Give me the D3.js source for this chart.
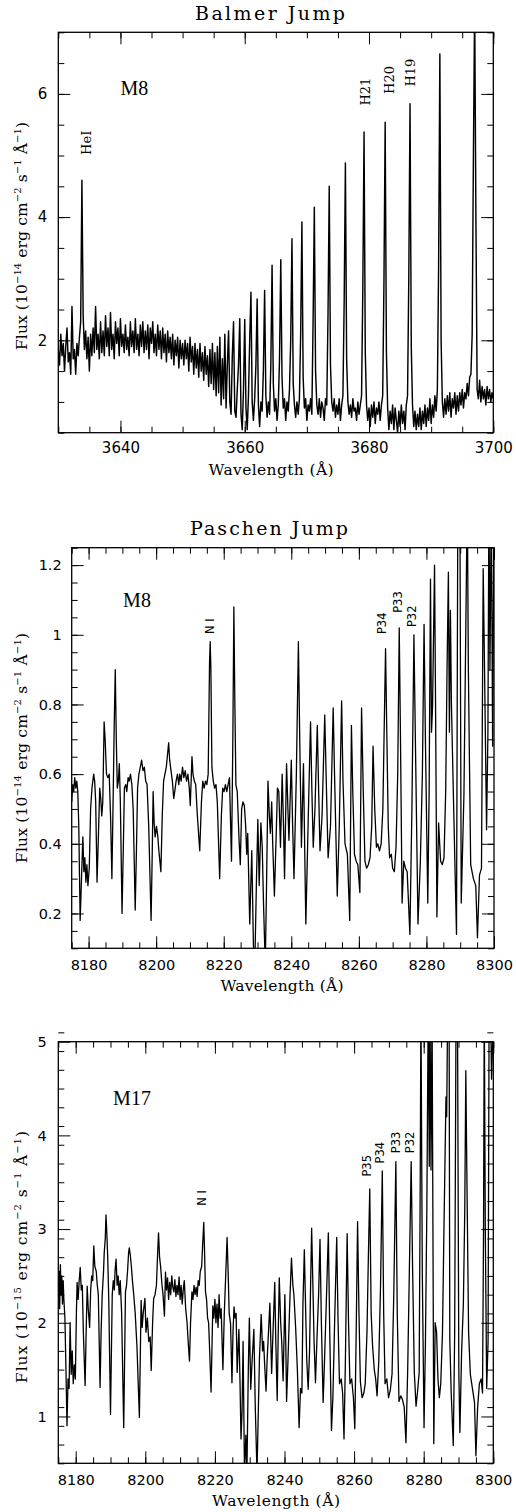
<!DOCTYPE html>
<html>
<head>
<meta charset="utf-8">
<script src="https://cdn.jsdelivr.net/npm/d3@7"></script>
<style>
  body { margin: 0; background: #fff; }
  svg text { fill: #000; }
</style>
</head>
<body>
<div id="chart"></div>
<script>
// Balmer jump, M8 : flux on a regular 0.2 A grid starting at 3630 A
const balmerStart = 3630, balmerStep = 0.2;
const balmerFlux = [
  1.85,1.60,2.10,1.75,1.95,1.50,1.90,2.20,1.65,1.80,
  1.45,2.55,1.70,1.85,1.45,1.95,1.75,2.05,2.30,4.60,
  2.40,1.85,2.15,1.70,2.05,1.50,2.10,1.75,2.20,1.80,
  2.55,1.85,2.10,1.70,2.30,1.80,2.15,1.75,2.40,1.90,
  2.20,1.75,2.45,1.85,2.10,1.70,2.30,1.95,2.20,1.75,
  2.35,1.90,2.10,1.80,2.25,1.85,2.05,1.75,2.30,1.90,
  2.15,1.80,2.35,1.85,2.10,1.75,2.25,1.90,2.30,1.80,
  2.15,1.85,2.25,1.70,2.20,1.95,2.30,1.80,2.10,1.75,
  2.25,1.85,2.15,1.70,2.20,1.80,2.10,1.65,2.15,1.80,
  2.05,1.70,2.10,1.60,2.00,1.75,2.05,1.55,2.00,1.70,
  1.95,1.60,2.00,1.70,1.95,1.50,2.05,1.65,1.90,1.45,
  1.95,1.55,1.85,1.40,1.95,1.50,1.80,1.35,1.90,1.45,
  1.75,1.25,1.85,1.30,1.95,1.20,1.80,1.10,1.90,1.15,
  2.05,0.95,1.70,1.05,2.10,0.90,1.60,2.15,1.00,0.80,
  1.75,2.30,0.85,0.75,1.20,1.60,2.35,0.80,0.55,1.20,
  2.34,0.90,0.55,1.10,2.00,2.78,1.00,0.70,1.05,1.60,
  2.67,0.95,0.60,1.00,0.85,1.50,2.81,1.10,0.75,1.00,
  0.80,1.60,3.22,1.30,0.85,1.05,0.70,0.95,1.70,3.31,
  1.40,0.90,1.05,0.70,1.00,0.85,1.20,2.00,3.65,1.30,
  0.95,0.75,1.00,0.80,1.05,2.10,3.92,1.40,0.90,1.05,
  0.70,0.95,0.85,1.05,0.80,2.30,4.16,1.50,0.95,0.80,
  1.05,0.75,1.00,0.90,0.70,1.05,0.95,2.40,4.50,1.60,
  1.00,0.85,1.05,0.75,0.95,0.80,1.05,0.70,0.95,1.10,
  2.60,4.88,1.70,1.00,0.80,0.95,0.75,1.05,0.85,0.90,
  0.70,1.00,0.80,0.95,1.10,2.80,5.38,1.80,0.95,0.70,
  0.90,0.60,0.95,0.75,1.00,0.65,0.90,0.80,1.00,0.70,
  0.95,1.10,2.90,5.54,1.80,0.90,0.55,0.85,0.65,0.95,
  0.55,0.90,0.70,0.50,0.85,0.60,0.95,0.65,0.85,0.55,
  0.95,1.10,3.00,5.84,1.90,0.95,0.60,0.85,0.55,0.80,
  0.60,0.90,0.55,0.85,0.65,0.95,0.60,0.90,0.70,1.05,
  0.65,0.95,0.75,1.10,0.85,1.20,3.20,6.65,2.00,1.00,
  0.75,1.05,0.80,1.10,0.85,1.15,0.75,1.05,0.90,1.15,
  0.80,1.10,0.85,1.15,0.95,1.20,0.90,1.15,1.05,1.30,
  1.10,1.40,1.45,2.10,5.00,7.50,4.00,1.20,1.05,1.35,
  1.00,1.25,1.05,1.20,0.95,1.25,1.05,1.20,1.00,1.15,
  1.05
];

// Paschen jump, M8 : [wavelength A, flux 1e-14]
const paschenM8 = [
  [8175.0,0.52],[8175.3,0.57],[8175.6,0.55],[8175.9,0.59],[8176.2,0.56],[8176.5,0.58],[8176.8,0.55],[8177.1,0.45],
  [8177.5,0.18],[8177.9,0.30],[8178.3,0.42],[8178.6,0.32],[8178.9,0.36],[8179.2,0.29],[8179.5,0.34],[8179.8,0.28],
  [8180.2,0.33],[8180.6,0.50],[8181.0,0.56],[8181.5,0.60],[8181.8,0.58],[8182.1,0.52],[8182.5,0.29],[8182.9,0.42],
  [8183.3,0.56],[8183.6,0.53],[8183.9,0.48],[8184.2,0.52],[8184.6,0.75],[8184.9,0.70],[8185.3,0.60],[8185.7,0.59],
  [8186.1,0.60],[8186.5,0.48],[8186.9,0.30],[8187.3,0.55],[8187.6,0.75],[8187.9,0.90],[8188.2,0.70],[8188.5,0.56],
  [8188.8,0.58],[8189.1,0.63],[8189.4,0.52],[8189.9,0.20],[8190.3,0.40],[8190.6,0.56],[8191.0,0.57],[8191.3,0.55],
  [8191.7,0.59],[8192.0,0.58],[8192.4,0.60],[8192.8,0.57],[8193.2,0.50],[8193.8,0.21],[8194.2,0.40],[8194.5,0.56],
  [8194.9,0.60],[8195.3,0.62],[8195.7,0.64],[8196.1,0.61],[8196.5,0.62],[8196.9,0.58],[8197.3,0.57],[8197.8,0.45],
  [8198.5,0.18],[8198.8,0.35],[8199.1,0.55],[8199.4,0.46],[8199.7,0.42],[8200.1,0.45],[8200.5,0.42],[8200.8,0.38],
  [8201.4,0.32],[8201.8,0.48],[8202.2,0.58],[8202.6,0.60],[8203.0,0.62],[8203.4,0.66],[8203.7,0.69],[8204.0,0.64],
  [8204.4,0.61],[8204.8,0.58],[8205.2,0.53],[8205.5,0.55],[8205.9,0.58],[8206.3,0.60],[8206.7,0.57],[8207.0,0.60],
  [8207.4,0.58],[8207.8,0.62],[8208.2,0.59],[8208.6,0.61],[8209.0,0.58],[8209.4,0.60],[8209.8,0.56],[8210.1,0.51],
  [8210.6,0.65],[8210.9,0.60],[8211.3,0.58],[8211.7,0.57],[8212.2,0.48],[8212.9,0.38],[8213.4,0.52],[8213.8,0.58],
  [8214.2,0.56],[8214.6,0.58],[8215.0,0.57],[8215.4,0.60],[8215.8,0.92],[8216.0,0.98],[8216.2,0.90],[8216.5,0.62],
  [8216.9,0.58],[8217.3,0.56],[8217.7,0.57],[8218.1,0.52],[8218.8,0.30],[8219.3,0.48],[8219.7,0.56],[8220.1,0.55],
  [8220.5,0.57],[8220.9,0.55],[8221.3,0.57],[8221.7,0.59],[8222.3,0.35],[8222.7,0.70],[8223.0,1.08],[8223.3,0.80],
  [8223.6,0.57],[8224.0,0.55],[8224.5,0.42],[8224.9,0.34],[8225.3,0.50],[8225.7,0.52],[8226.1,0.51],[8226.5,0.45],
  [8226.8,0.37],[8227.1,0.43],[8227.7,0.17],[8228.3,0.38],[8228.9,0.05],[8229.3,0.10],[8229.7,0.30],[8230.1,0.47],
  [8230.5,0.28],[8231.0,0.46],[8231.4,0.39],[8231.8,0.22],[8232.3,0.05],[8232.7,0.30],[8233.1,0.58],[8233.5,0.48],
  [8233.8,0.43],[8234.2,0.52],[8234.5,0.40],[8235.0,0.25],[8235.6,0.45],[8235.9,0.56],[8236.3,0.55],[8236.8,0.39],
  [8237.3,0.60],[8237.7,0.45],[8238.0,0.30],[8238.6,0.63],[8239.0,0.50],[8239.3,0.41],[8240.0,0.64],[8240.4,0.45],
  [8240.8,0.30],[8241.5,0.60],[8242.1,0.98],[8242.5,0.70],[8243.0,0.39],[8243.6,0.63],[8244.3,0.17],[8244.8,0.38],
  [8245.2,0.55],[8245.7,0.75],[8246.1,0.55],[8246.5,0.39],[8247.0,0.50],[8247.7,0.74],[8248.1,0.55],[8248.5,0.38],
  [8249.1,0.48],[8249.9,0.77],[8250.3,0.60],[8250.9,0.36],[8251.6,0.45],[8252.4,0.79],[8252.8,0.60],[8253.6,0.25],
  [8254.2,0.45],[8254.9,0.81],[8255.3,0.58],[8255.9,0.40],[8256.6,0.37],[8257.3,0.18],[8257.8,0.74],[8258.2,0.55],
  [8258.7,0.37],[8259.2,0.35],[8259.7,0.34],[8260.3,0.26],[8260.8,0.79],[8261.3,0.55],[8261.8,0.35],[8262.3,0.33],
  [8262.8,0.34],[8263.3,0.36],[8263.8,0.45],[8264.2,0.68],[8264.7,0.50],[8265.2,0.39],[8265.6,0.40],[8266.1,0.38],
  [8266.6,0.40],[8267.1,0.50],[8267.9,0.96],[8268.3,0.70],[8268.7,0.45],[8269.1,0.36],[8269.6,0.37],[8270.0,0.33],
  [8270.5,0.32],[8271.0,0.39],[8271.5,0.60],[8271.95,1.02],[8272.3,0.72],[8272.8,0.23],[8273.3,0.35],[8273.8,0.33],
  [8274.3,0.32],[8275.1,0.14],[8275.7,0.50],[8276.3,1.00],[8276.7,0.72],[8277.5,0.17],[8278.2,0.35],[8278.8,0.60],
  [8279.3,1.03],[8279.7,0.70],[8280.4,0.23],[8280.8,0.55],[8281.2,1.16],[8281.5,0.72],[8281.8,0.79],[8282.4,1.20],
  [8282.7,0.80],[8283.1,0.19],[8283.6,0.46],[8284.2,0.35],[8284.7,0.34],[8285.2,0.36],[8285.7,0.55],[8286.1,0.90],
  [8286.5,1.18],[8286.8,0.72],[8287.1,1.07],[8287.4,0.80],[8287.8,0.62],[8288.3,0.40],[8288.9,0.14],[8289.3,1.40],
  [8289.9,1.40],[8290.3,0.23],[8291.1,0.54],[8292.1,1.40],[8292.4,0.91],[8293.1,0.34],[8293.9,0.30],[8294.6,0.28],
  [8295.1,0.13],[8295.7,0.31],[8296.3,0.33],[8296.8,1.19],[8297.2,0.90],[8297.8,0.44],[8298.2,0.72],[8298.5,1.40],
  [8298.8,0.90],[8299.2,1.40],[8299.6,0.68],[8300.0,1.40]
];

// Paschen jump, M17 : [wavelength A, flux 1e-15]
const paschenM17 = [
  [8175.0,2.30],[8175.2,2.55],[8175.4,2.15],[8175.6,2.62],[8175.8,2.30],[8176.0,2.50],[8176.2,2.20],[8176.4,2.45],
  [8176.6,2.25],[8176.9,2.05],[8177.2,1.50],[8177.5,0.90],[8177.8,1.40],[8178.1,1.30],[8178.4,2.00],[8178.7,1.45],
  [8179.0,1.70],[8179.3,1.35],[8179.6,1.55],[8179.9,1.40],[8180.2,2.10],[8180.4,2.43],[8180.7,2.25],[8181.0,2.45],
  [8181.3,2.59],[8181.6,2.35],[8181.9,2.40],[8182.2,1.90],[8182.7,1.33],[8183.0,1.90],[8183.3,2.39],[8183.6,2.15],
  [8184.0,1.95],[8184.3,2.35],[8184.6,2.50],[8184.9,2.45],[8185.2,2.82],[8185.5,2.60],[8185.9,2.55],[8186.2,2.40],
  [8186.5,2.30],[8187.0,1.31],[8187.3,1.90],[8187.6,2.28],[8188.0,2.55],[8188.2,2.75],[8188.5,2.90],[8188.7,3.15],
  [8188.9,3.00],[8189.2,2.70],[8189.5,2.25],[8190.0,1.02],[8190.5,2.30],[8190.8,2.45],[8191.1,2.35],[8191.3,2.55],
  [8191.6,2.68],[8191.9,2.40],[8192.2,2.50],[8192.5,2.30],[8192.8,2.45],[8193.2,2.10],[8193.8,0.88],[8194.3,2.33],
  [8194.6,2.40],[8194.9,2.55],[8195.2,2.75],[8195.4,2.80],[8195.7,2.72],[8196.0,2.60],[8196.3,2.45],[8196.7,2.29],
  [8197.1,2.10],[8197.6,1.75],[8198.3,0.99],[8198.8,2.24],[8199.1,1.95],[8199.4,2.10],[8199.9,2.26],[8200.2,1.90],
  [8200.6,2.05],[8201.0,1.80],[8201.4,1.85],[8201.7,1.49],[8202.1,2.00],[8202.4,2.26],[8202.8,2.30],[8203.2,2.40],
  [8203.5,2.70],[8203.8,2.96],[8204.1,2.70],[8204.4,2.60],[8204.8,2.40],[8205.1,2.30],[8205.5,2.07],[8205.8,2.54],
  [8206.1,2.35],[8206.4,2.48],[8206.7,2.25],[8207.0,2.43],[8207.3,2.30],[8207.6,2.50],[8207.9,2.38],[8208.2,2.33],
  [8208.5,2.46],[8208.8,2.28],[8209.1,2.40],[8209.4,2.30],[8209.7,2.49],[8210.0,2.25],[8210.3,2.40],[8210.6,2.20],
  [8210.9,2.35],[8211.2,2.45],[8211.6,2.15],[8212.0,2.00],[8212.4,1.75],[8212.7,1.59],[8213.0,2.00],[8213.4,2.33],
  [8213.7,2.25],[8214.0,2.40],[8214.3,2.30],[8214.6,2.38],[8214.9,2.28],[8215.2,2.45],[8215.5,2.40],[8215.8,2.55],
  [8216.2,2.60],[8216.5,2.85],[8216.8,3.07],[8217.0,2.80],[8217.3,2.33],[8217.6,2.25],[8217.9,2.05],[8218.2,2.00],
  [8218.5,1.70],[8218.9,1.26],[8219.4,2.18],[8219.7,2.05],[8220.0,2.25],[8220.3,2.00],[8220.6,2.20],[8220.9,1.95],
  [8221.2,2.30],[8221.5,2.05],[8221.8,2.15],[8222.3,1.50],[8222.7,2.10],[8223.1,2.50],[8223.5,2.91],[8223.8,2.55],
  [8224.1,2.10],[8224.5,1.99],[8224.9,1.36],[8225.2,1.90],[8225.5,2.17],[8225.8,2.05],[8226.1,2.10],[8226.4,1.47],
  [8226.9,1.93],[8227.2,1.40],[8227.5,0.76],[8227.8,1.05],[8228.1,1.80],[8228.5,0.40],[8228.9,0.80],[8229.2,0.40],
  [8229.6,1.50],[8229.9,2.05],[8230.3,1.29],[8230.7,1.60],[8231.2,1.93],[8231.6,1.10],[8232.1,0.40],[8232.5,1.10],
  [8232.8,1.62],[8233.3,2.09],[8233.7,1.70],[8234.0,1.80],[8234.3,1.55],[8234.7,1.27],[8235.0,1.60],[8235.4,1.90],
  [8235.8,2.21],[8236.3,1.46],[8236.7,1.90],[8237.2,2.43],[8237.5,1.80],[8237.9,1.17],[8238.2,1.90],[8238.5,2.48],
  [8238.9,2.00],[8239.2,1.80],[8239.6,1.38],[8239.9,1.90],[8240.1,2.30],[8240.4,1.70],[8240.6,1.16],[8241.0,1.60],
  [8241.5,2.20],[8242.0,2.69],[8242.4,2.40],[8242.7,2.30],[8243.2,1.95],[8243.7,1.50],[8244.2,0.88],[8244.6,1.30],
  [8245.0,1.25],[8245.3,2.20],[8245.7,2.78],[8246.1,2.10],[8246.4,1.60],[8246.8,1.29],[8247.2,1.70],[8247.5,2.40],
  [8247.8,3.01],[8248.1,2.50],[8248.5,1.80],[8248.9,1.36],[8249.3,1.80],[8249.8,2.30],[8250.2,2.89],[8250.6,2.00],
  [8251.1,1.15],[8251.5,1.60],[8252.0,2.20],[8252.6,2.96],[8253.0,1.90],[8253.5,0.85],[8253.9,1.20],[8254.4,2.00],
  [8255.0,2.91],[8255.4,2.00],[8255.8,1.35],[8256.3,1.40],[8256.7,1.25],[8257.1,0.76],[8257.5,1.60],[8258.0,2.95],
  [8258.4,2.00],[8258.8,1.35],[8259.3,1.40],[8259.8,1.20],[8260.2,0.87],[8260.6,1.90],[8261.0,3.08],[8261.4,2.10],
  [8261.8,1.37],[8262.3,1.20],[8262.8,1.25],[8263.2,1.35],[8263.7,1.90],[8264.1,2.70],[8264.5,3.43],[8264.9,2.10],
  [8265.3,1.76],[8265.8,1.50],[8266.2,1.40],[8266.6,1.22],[8267.1,1.60],[8267.6,2.40],[8268.1,3.62],[8268.5,2.10],
  [8268.9,1.35],[8269.4,1.40],[8269.9,1.20],[8270.4,1.28],[8270.9,1.45],[8271.4,2.30],[8272.0,3.72],[8272.4,2.10],
  [8272.9,1.16],[8273.4,1.22],[8273.9,1.18],[8274.4,1.10],[8274.9,0.72],[8275.4,1.50],[8275.9,2.60],[8276.4,3.72],
  [8276.8,2.60],[8277.3,1.47],[8277.8,1.11],[8278.2,1.25],[8278.7,1.47],[8279.0,3.50],[8279.2,5.40],[8279.6,2.53],
  [8280.1,0.88],[8280.5,1.80],[8280.9,3.20],[8281.3,5.40],[8281.6,3.67],[8281.8,5.40],[8282.1,3.63],[8282.4,5.40],
  [8282.9,0.71],[8283.3,2.00],[8283.7,1.90],[8284.1,1.40],[8284.5,1.20],[8284.9,1.35],[8285.4,1.90],[8285.8,2.95],
  [8286.4,4.41],[8286.6,4.20],[8286.9,5.40],[8287.3,5.40],[8287.5,1.82],[8287.9,1.25],[8288.5,0.69],[8288.9,1.90],
  [8289.3,5.40],[8289.7,5.40],[8290.1,1.46],[8290.4,0.83],[8290.9,1.70],[8291.4,2.20],[8291.8,3.20],[8292.1,4.69],
  [8292.4,3.60],[8292.9,1.90],[8293.4,1.45],[8294.0,1.30],[8294.6,1.15],[8295.0,0.58],[8295.5,1.10],[8296.0,1.35],
  [8296.5,1.40],[8296.9,1.25],[8297.2,3.00],[8297.4,5.40],[8297.7,3.00],[8298.1,1.30],[8298.5,1.80],[8298.8,5.40],
  [8299.2,5.40],[8299.5,4.60],[8299.8,5.00],[8300.0,5.40]
];

// line identifications : label, wavelength of label, flux level of label foot
const balmerIds = [
  { text: "HeI", wave: 3634.46, flux: 5.01 },
  { text: "H21", wave: 3679.47, flux: 5.81 },
  { text: "H20", wave: 3683.27, flux: 6.00 },
  { text: "H19", wave: 3686.71, flux: 6.12 }
];
const paschenM8Ids = [
  { text: "N I", wave: 8215.79, flux: 1.002 },
  { text: "P34", wave: 8266.76, flux: 1.002 },
  { text: "P33", wave: 8271.67, flux: 1.063 },
  { text: "P32", wave: 8275.73, flux: 1.022 }
];
const paschenM17Ids = [
  { text: "N I", wave: 8216.21, flux: 3.25 },
  { text: "P35", wave: 8263.62, flux: 3.56 },
  { text: "P34", wave: 8267.53, flux: 3.70 },
  { text: "P33", wave: 8271.98, flux: 3.81 },
  { text: "P32", wave: 8276.06, flux: 3.81 }
];

// axis tick labels
const balmerXTicks = [3640, 3660, 3680, 3700];
const balmerYTicks = [2, 4, 6];
const paschenXTicks = [8180, 8200, 8220, 8240, 8260, 8280, 8300];
const paschenM8YTicks = [0.2, 0.4, 0.6, 0.8, 1, 1.2];
const paschenM17YTicks = [1, 2, 3, 4, 5];

const balmerData = balmerFlux.map((f, i) => [balmerStart + i * balmerStep, f]);

const serif = "'DejaVu Serif', serif";
const sans = "'DejaVu Sans', sans-serif";

const svg = d3.select("#chart").append("svg")
  .attr("width", 516)
  .attr("height", 1512);

const panels = [
  { id: "balmer", data: balmerData, ids: balmerIds, idFont: serif, idSize: 13, lineWidth: 1.45,
    xDomain: [3630, 3700], yDomain: [0.5, 7], xMinor: 5, yMinor: 0.5,
    xTicks: balmerXTicks, yTicks: balmerYTicks,
    left: 58.3, right: 493.3, top: 32.3, bottom: 432.7, tickSize: 15, xPad: 9.5, yPad: 11,
    title: "Balmer Jump", titleX: 270, titleY: 20, titleLen: 150,
    xLabelX: 271, xLabelY: 475, xLabelLen: 125, yLabelY: 236, yLabelLen: 228, expo: "\u221214",
    object: "M8", objWave: 3642.26, objFlux: 5.99 },
  { id: "m8", data: paschenM8, ids: paschenM8Ids, idFont: sans, idSize: 11.5, lineWidth: 1.3,
    xDomain: [8175, 8300], yDomain: [0.1, 1.25], xMinor: 5, yMinor: 0.05,
    xTicks: paschenXTicks, yTicks: paschenM8YTicks,
    left: 71.7, right: 494, top: 547.7, bottom: 948.3, tickSize: 14.5, xPad: 11, yPad: 10,
    title: "Paschen Jump", titleX: 269, titleY: 535, titleLen: 158,
    xLabelX: 282, xLabelY: 991, xLabelLen: 123, yLabelY: 748, yLabelLen: 230, expo: "\u221214",
    object: "M8", objWave: 8194.33, objFlux: 1.08 },
  { id: "m17", data: paschenM17, ids: paschenM17Ids, idFont: sans, idSize: 11.5, lineWidth: 1.3,
    xDomain: [8175, 8300], yDomain: [0.5, 5], xMinor: 5, yMinor: 0.2,
    xTicks: paschenXTicks, yTicks: paschenM17YTicks,
    left: 58.3, right: 493.3, top: 1041.7, bottom: 1463.3, tickSize: 14.5, xPad: 11, yPad: 11.6,
    title: null,
    xLabelX: 276, xLabelY: 1506, xLabelLen: 128, yLabelY: 1257, yLabelLen: 252, expo: "\u221215",
    object: "M17", objWave: 8196.18, objFlux: 4.32 }
];

function steps(domain, step) {
  const n = Math.round((domain[1] - domain[0]) / step);
  return d3.range(0, n + 1).map(k => +(domain[0] + k * step).toFixed(4));
}

panels.forEach(p => {
  const x = d3.scaleLinear().domain(p.xDomain).range([p.left, p.right]);
  const y = d3.scaleLinear().domain(p.yDomain).range([p.bottom, p.top]);
  const g = svg.append("g").attr("id", p.id);

  // clip the spectrum to the box
  svg.append("clipPath").attr("id", "clip-" + p.id)
    .append("rect")
      .attr("x", p.left).attr("y", p.top)
      .attr("width", p.right - p.left).attr("height", p.bottom - p.top);

  g.append("path")
    .datum(p.data)
    .attr("clip-path", `url(#clip-${p.id})`)
    .attr("fill", "none")
    .attr("stroke", "#000")
    .attr("stroke-width", p.lineWidth)
    .attr("stroke-linejoin", "round")
    .attr("d", d3.line().x(d => x(d[0])).y(d => y(d[1])));

  // ticks on all four sides, pointing in
  const xMinorVals = steps(p.xDomain, p.xMinor);
  const yMinorVals = steps(p.yDomain, p.yMinor);
  const fmt = d => String(d);

  const axes = [
    [d3.axisBottom(x).tickValues(p.xTicks).tickSize(-12).tickPadding(p.xPad).tickFormat(fmt), `translate(0,${p.bottom})`],
    [d3.axisBottom(x).tickValues(xMinorVals).tickSize(-6).tickFormat(""), `translate(0,${p.bottom})`],
    [d3.axisTop(x).tickValues(p.xTicks).tickSize(-12).tickFormat(""), `translate(0,${p.top})`],
    [d3.axisTop(x).tickValues(xMinorVals).tickSize(-6).tickFormat(""), `translate(0,${p.top})`],
    [d3.axisLeft(y).tickValues(p.yTicks).tickSize(-12).tickPadding(p.yPad).tickFormat(fmt), `translate(${p.left},0)`],
    [d3.axisLeft(y).tickValues(yMinorVals).tickSize(-6).tickFormat(""), `translate(${p.left},0)`],
    [d3.axisRight(y).tickValues(p.yTicks).tickSize(-12).tickFormat(""), `translate(${p.right},0)`],
    [d3.axisRight(y).tickValues(yMinorVals).tickSize(-6).tickFormat(""), `translate(${p.right},0)`]
  ];
  axes.forEach(([axis, tr]) => {
    const a = g.append("g").attr("transform", tr).call(axis);
    a.select(".domain").remove();
    a.selectAll("line").attr("stroke", "#000").attr("stroke-width", 1);
    a.attr("font-family", sans).attr("font-size", p.tickSize);
  });

  g.append("rect")
    .attr("x", p.left).attr("y", p.top)
    .attr("width", p.right - p.left).attr("height", p.bottom - p.top)
    .attr("fill", "none").attr("stroke", "#000").attr("stroke-width", 1.3);

  if (p.title) {
    g.append("text")
      .attr("x", p.titleX).attr("y", p.titleY)
      .attr("text-anchor", "middle")
      .attr("textLength", p.titleLen).attr("lengthAdjust", "spacing")
      .style("font-family", serif).style("font-size", "19px")
      .text(p.title);
  }

  g.append("text")
    .attr("x", p.xLabelX).attr("y", p.xLabelY)
    .attr("text-anchor", "middle")
    .attr("textLength", p.xLabelLen).attr("lengthAdjust", "spacing")
    .style("font-family", serif).style("font-size", "15.5px")
    .text("Wavelength (\u00c5)");

  // rotated flux label with superscripts
  const yl = g.append("text")
    .attr("transform", `translate(27,${p.yLabelY}) rotate(-90)`)
    .attr("text-anchor", "middle")
    .attr("textLength", p.yLabelLen).attr("lengthAdjust", "spacing")
    .style("font-family", serif).style("font-size", "15.5px");
  const parts = [["Flux (10", false], [p.expo, true], [" erg cm", false], ["\u22122", true],
                 [" s", false], ["\u22121", true], [" \u00c5", false], ["\u22121", true], [")", false]];
  parts.forEach(([t, sup], i) => {
    const prevSup = i > 0 && parts[i - 1][1];
    yl.append("tspan")
      .attr("dy", sup ? -6 : (prevSup ? 6 : 0))
      .style("font-size", sup ? "10px" : "15.5px")
      .text(t);
  });

  g.append("text")
    .attr("x", x(p.objWave)).attr("y", y(p.objFlux))
    .attr("text-anchor", "middle")
    .style("font-family", "'Liberation Serif', serif").style("font-size", "20px")
    .text(p.object);

  g.selectAll("text.lineid")
    .data(p.ids)
    .join("text")
      .attr("class", "lineid")
      .attr("transform", d => `translate(${x(d.wave)},${y(d.flux)}) rotate(-90)`)
      .attr("text-anchor", "start")
      .attr("dominant-baseline", "central")
      .style("font-family", p.idFont)
      .style("font-size", p.idSize + "px")
      .text(d => d.text);
});
</script>
</body>
</html>
